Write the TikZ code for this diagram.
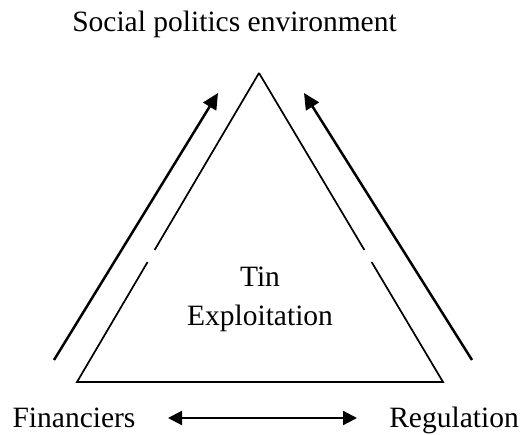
\documentclass[tikz,border=0pt]{standalone}
\usepackage{fontspec}
\setmainfont{Liberation Serif}
\usetikzlibrary{arrows.meta}
\begin{document}
\begin{tikzpicture}[x=1pt,y=1pt,
  lbl/.style={inner sep=0pt,anchor=base,font=\fontsize{29.5}{34}\selectfont},
  side/.style={line width=1.7pt},
  flow/.style={line width=2.5pt,-{Triangle[length=16pt,width=15pt]}},
  both/.style={line width=2.2pt,{Triangle[length=14pt,width=14pt]}-{Triangle[length=14pt,width=14pt]}}]
\useasboundingbox (0,0) rectangle (522,434);
% triangle vertices
\coordinate (A) at (259,361);
\coordinate (L) at (77,52);
\coordinate (R) at (443,52);
\coordinate (lg1) at (154.6,184);
\coordinate (lg2) at (147.6,172);
\coordinate (rg1) at (364.4,184);
\coordinate (rg2) at (371.6,172);
\draw[side] (A) -- (lg1);
\draw[side] (lg2) -- (L) -- (R) -- (rg2);
\draw[side] (rg1) -- (A);
% arrows
\coordinate (la0) at (54,74);
\coordinate (la1) at (218,341);
\coordinate (ra0) at (472,74);
\coordinate (ra1) at (304,341);
\coordinate (ba0) at (168,16);
\coordinate (ba1) at (357,16);
\draw[flow] (la0) -- (la1);
\draw[flow] (ra0) -- (ra1);
\draw[both] (ba0) -- (ba1);
% labels
\node[lbl] (soc) at (234.5,402) {Social politics environment};
\node[lbl] (tin) at (260,147) {Tin};
\node[lbl] (exp) at (260,109) {Exploitation};
\node[lbl] (fin) at (74,7) {Financiers};
\node[lbl] (reg) at (454,7) {Regulation};
\end{tikzpicture}
\end{document}
